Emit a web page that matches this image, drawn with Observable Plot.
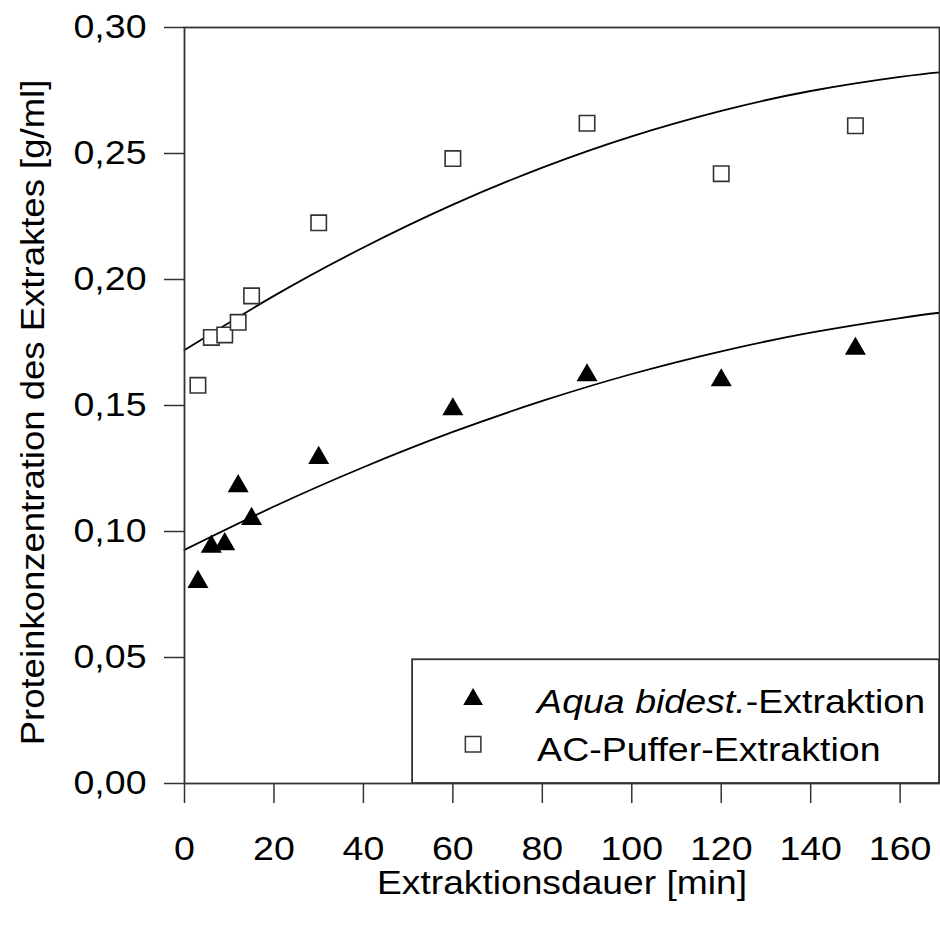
<!DOCTYPE html>
<html>
<head>
<meta charset="utf-8">
<script src="https://cdn.jsdelivr.net/npm/d3@7"></script>
<script src="https://cdn.jsdelivr.net/npm/@observablehq/plot@0.6"></script>
<style>
  html, body { margin: 0; padding: 0; background: #fff; }
  #chart { position: relative; width: 940px; height: 932px; }
</style>
</head>
<body>
<div id="chart"></div>
<script>
// ---- data ----
const times = [3, 6, 9, 12, 15, 30, 60, 90, 120, 150];
const aquaValues = [0.080, 0.094, 0.095, 0.118, 0.105, 0.1292, 0.1485, 0.1620, 0.1600, 0.1725];
const acValues = [0.158, 0.177, 0.178, 0.183, 0.1935, 0.2225, 0.248, 0.262, 0.242, 0.261];

// fitted curves
const fitTimes = [0, 20, 40, 60, 80, 100, 120, 140, 160, 168.8];
const aquaFit = [0.0927, 0.1099, 0.1255, 0.1395, 0.1518, 0.1625, 0.1715, 0.1789, 0.1847, 0.1868];
const acFit = [0.1720, 0.1935, 0.2127, 0.2297, 0.2444, 0.2568, 0.2669, 0.2748, 0.2804, 0.2822];

const xTicks = [0, 20, 40, 60, 80, 100, 120, 140, 160];
const yTicks = [0, 0.05, 0.10, 0.15, 0.20, 0.25, 0.30];

const seriesNames = ["Aqua bidest.", "AC-Puffer-Extraktion"];
const xLabel = "Extraktionsdauer [min]";
const yLabel = "Proteinkonzentration des Extraktes [g/ml]";

// ---- tables ----
const aqua = times.map((t, i) => ({t, v: aquaValues[i]}));
const ac = times.map((t, i) => ({t, v: acValues[i]}));
const aquaCurve = fitTimes.map((t, i) => ({t, v: aquaFit[i]}));
const acCurve = fitTimes.map((t, i) => ({t, v: acFit[i]}));

const fmt = d => d3.format(".2f")(d).replace(".", ",");
const FONT = "'Liberation Sans', Arial, Helvetica, sans-serif";
const FS = 33.5;
const AX = "#333";

const plot = Plot.plot({
  width: 940,
  height: 932,
  marginLeft: 184,
  marginRight: 1,
  marginTop: 27,
  marginBottom: 149,
  style: {fontFamily: FONT, fontSize: FS + "px", color: "#000", background: "#fff"},
  x: {domain: [0, 168.8]},
  y: {domain: [0, 0.30]},
  marks: [
    Plot.line(acCurve, {x: "t", y: "v", curve: "natural", stroke: "#000", strokeWidth: 1.8}),
    Plot.line(aquaCurve, {x: "t", y: "v", curve: "natural", stroke: "#000", strokeWidth: 1.8}),
    Plot.dot(aqua, {x: "t", y: "v", symbol: "triangle", r: 7.8, fill: "#000", stroke: "none"}),
    Plot.dot(ac, {x: "t", y: "v", symbol: "square", r: 8.7, fill: "#fff", stroke: AX, strokeWidth: 1.6}),
    Plot.axisX({ticks: xTicks, tickSize: 20, tickPadding: 33, tickFormat: d => String(d), label: null, stroke: AX, strokeWidth: 1.5, fill: "#000", fontSize: FS}),
    Plot.axisY({ticks: yTicks, tickSize: 20, tickPadding: 18, tickFormat: fmt, label: null, stroke: AX, strokeWidth: 1.5, fill: "#000", fontSize: FS}),
    Plot.frame({stroke: AX, strokeWidth: 1.8}),
    Plot.text([xLabel], {frameAnchor: "bottom", dy: 100, fontSize: FS, fill: "#000", textAnchor: "middle", lineAnchor: "middle", className: "xlab"}),
    Plot.text([yLabel], {frameAnchor: "left", dx: -151, dy: 7, rotate: -90, fontSize: FS, fill: "#000", textAnchor: "middle", lineAnchor: "middle", className: "ylab"})
  ]
});
document.getElementById("chart").appendChild(plot);

// ---- legend box (lower right, inside the frame) ----
const svg = d3.select(plot);
const xs = plot.scale("x"), ys = plot.scale("y");
const x0 = xs.apply(51.0), x1 = xs.apply(168.8);
const yb = ys.apply(0), yt = ys.apply(0.0491);
const g = svg.append("g").attr("font-family", FONT).attr("font-size", FS).attr("text-anchor", "start");
g.append("rect").attr("x", x0).attr("y", yt).attr("width", x1 - x0).attr("height", yb - yt)
  .attr("fill", "#fff").attr("stroke", AX).attr("stroke-width", 1.8);
const mx = x0 + 61;
const tri = d3.symbol(d3.symbolTriangle, Math.PI * 7.3 * 7.3)();
g.append("path").attr("d", tri).attr("transform", `translate(${mx},${yt + 40})`).attr("fill", "#000");
const t1 = g.append("text").attr("x", x0 + 125).attr("y", yt + 54).attr("fill", "#000");
t1.append("tspan").attr("font-style", "italic").text(seriesNames[0]);
t1.append("tspan").text("-Extraktion");
const sq = d3.symbol(d3.symbolSquare, 15.5 * 15.5)();
g.append("path").attr("d", sq).attr("transform", `translate(${mx},${yt + 85})`)
  .attr("fill", "#fff").attr("stroke", AX).attr("stroke-width", 1.5);
g.append("text").attr("x", x0 + 125).attr("y", yt + 102).attr("fill", "#000").text(seriesNames[1]);

// the reference's lettering is slightly wider than Liberation Sans: stretch horizontally
plot.querySelectorAll("text").forEach(el => {
  const L = el.getComputedTextLength();
  if (L > 0) {
    const inY = el.closest(".ylab") !== null;
    const k = inY ? 1.09 : (el.closest(".xlab") ? 1.11 : 1.12);
    el.setAttribute("textLength", (L * k).toFixed(1));
    el.setAttribute("lengthAdjust", "spacingAndGlyphs");
  }
});
</script>
</body>
</html>
